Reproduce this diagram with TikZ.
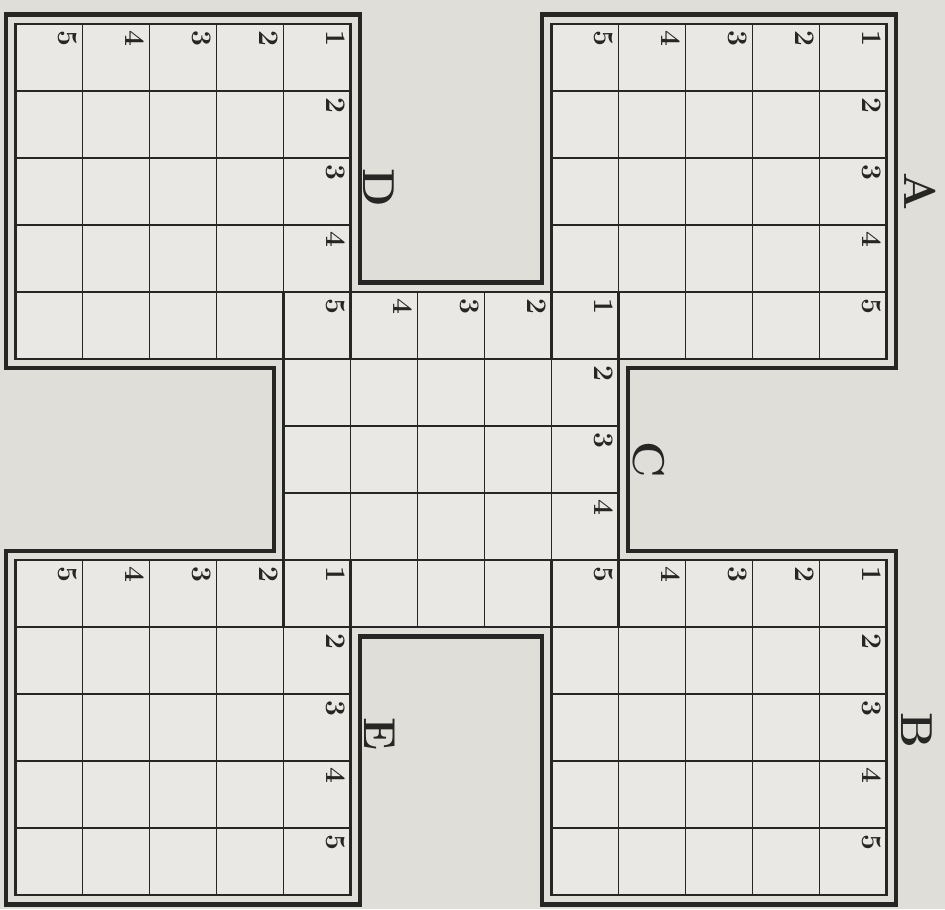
\documentclass[tikz,border=0pt]{standalone}
\usetikzlibrary{backgrounds}

\definecolor{paper}{RGB}{224,222,217}
\definecolor{cellfill}{RGB}{234,232,228}
\definecolor{ink}{RGB}{38,38,36}

\begin{document}
\begin{tikzpicture}[
    x=1cm, y=1cm,
    gridline/.style={
        draw=ink,
        line width=0.8pt
    },
    gridborder/.style={
        draw=ink,
        line width=1.1pt
    },
    outline/.style={
        draw=ink,
        line width=1.8pt,
        line join=miter
    },
    digit/.style={
        font=\fontsize{12}{14}\selectfont\bfseries,
        text=ink,
        rotate=-90,
        inner sep=0pt
    },
    letter/.style={
        font=\fontsize{19}{21}\selectfont\bfseries,
        text=ink,
        rotate=-90,
        inner sep=0pt
    }
]

% Paper
\fill[paper] (-0.231,-0.209) rectangle (13.873,13.358);

% Cells of the five 5x5 grids (lower left corners)
\foreach \gx/\gy in {0/8, 8/8, 4/4, 0/0, 8/0} {
    \fill[cellfill] (\gx,\gy) rectangle (\gx+5,\gy+5);
}
\foreach \gx/\gy in {0/8, 8/8, 4/4, 0/0, 8/0} {
    \draw[gridline] (\gx,\gy) grid (\gx+5,\gy+5);
    \draw[gridborder] (\gx,\gy) rectangle (\gx+5,\gy+5);
}

% Numbers along the top row and the right column
\foreach \g/\gx/\gy/\last in {D/0/8/5, A/8/8/5, C/4/4/4, E/0/0/5, B/8/0/5} {
    \foreach \i in {1,...,\last} {
        \node[digit] (\g-top\i) at (\gx+5.78-\i, \gy+4.78) {\i};
    }
    \foreach \i in {2,...,\last} {
        \node[digit] (\g-side\i) at (\gx+4.78, \gy+5.78-\i) {\i};
    }
}

% Outer double line round the whole figure
\draw[outline] (-0.14,13.14) -- (5.14,13.14) -- (5.14,9.14) -- (7.86,9.14)
    -- (7.86,13.14) -- (13.14,13.14) -- (13.14,7.86) -- (9.14,7.86)
    -- (9.14,5.14) -- (13.14,5.14) -- (13.14,-0.14) -- (7.86,-0.14)
    -- (7.86,3.86) -- (5.14,3.86) -- (5.14,-0.14) -- (-0.14,-0.14)
    -- (-0.14,5.14) -- (3.86,5.14) -- (3.86,7.86) -- (-0.14,7.86) -- cycle;

% Grid letters
\node[letter] (labA) at (13.5,10.5) {A};
\node[letter] (labB) at (13.45,2.45) {B};
\node[letter] (labC) at (9.45,6.5) {C};
\node[letter] (labD) at (5.43,10.55) {D};
\node[letter] (labE) at (5.43,2.4) {E};

\end{tikzpicture}
\end{document}
